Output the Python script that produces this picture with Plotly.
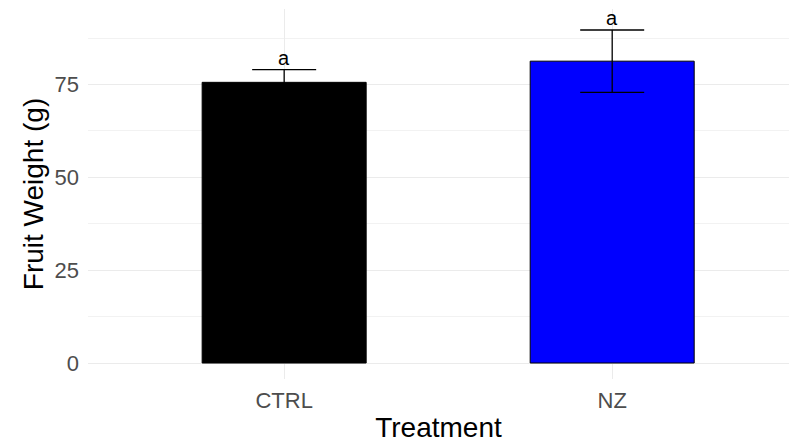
import plotly.graph_objects as go

treatments = ["CTRL", "NZ"]
mean_weight = [75.6, 81.3]
sd_weight = [3.4, 8.4]
bar_colors = ["#000000", "#0000FF"]
letters = ["a", "a"]

FONT = "Liberation Sans"

fig = go.Figure()
fig.add_trace(go.Bar(
    x=treatments, y=mean_weight, width=0.5,
    marker=dict(color=bar_colors, line=dict(color="black", width=1)),
    error_y=dict(type="data", array=sd_weight, visible=True, color="black",
                 thickness=1.3, width=32),
    showlegend=False, hoverinfo="skip",
))

for t, m, s, l in zip(treatments, mean_weight, sd_weight, letters):
    fig.add_annotation(x=t, y=m + s, text=l, showarrow=False, yanchor="bottom",
                       yshift=-1, font=dict(family=FONT, size=20, color="black"))

fig.update_layout(
    width=789, height=444,
    margin=dict(l=88, r=0, t=9, b=65),
    paper_bgcolor="white", plot_bgcolor="white",
    font=dict(family=FONT, color="#4D4D4D"),
    bargap=0.5,
)
fig.update_xaxes(
    type="category", range=[-0.598, 1.539],
    showgrid=True, gridcolor="#EBEBEB", gridwidth=1,
    showline=False, zeroline=False, ticks="",
    tickfont=dict(family=FONT, size=22, color="#4D4D4D"),
    ticklabelstandoff=6,
    title=dict(text="Treatment", font=dict(family=FONT, size=28, color="black"), standoff=5),
)
fig.update_yaxes(
    range=[-4.3, 95.35], tickvals=[0, 25, 50, 75],
    showgrid=True, gridcolor="#EBEBEB", gridwidth=1,
    minor=dict(dtick=12.5, tick0=0, showgrid=True, gridcolor="#F2F2F2", gridwidth=1),
    showline=False, zeroline=False, ticks="",
    tickfont=dict(family=FONT, size=22, color="#4D4D4D"),
    ticklabelstandoff=8,
    title=dict(text="Fruit Weight (g)", font=dict(family=FONT, size=28, color="black"), standoff=2),
)

fig.write_html("out.html")
